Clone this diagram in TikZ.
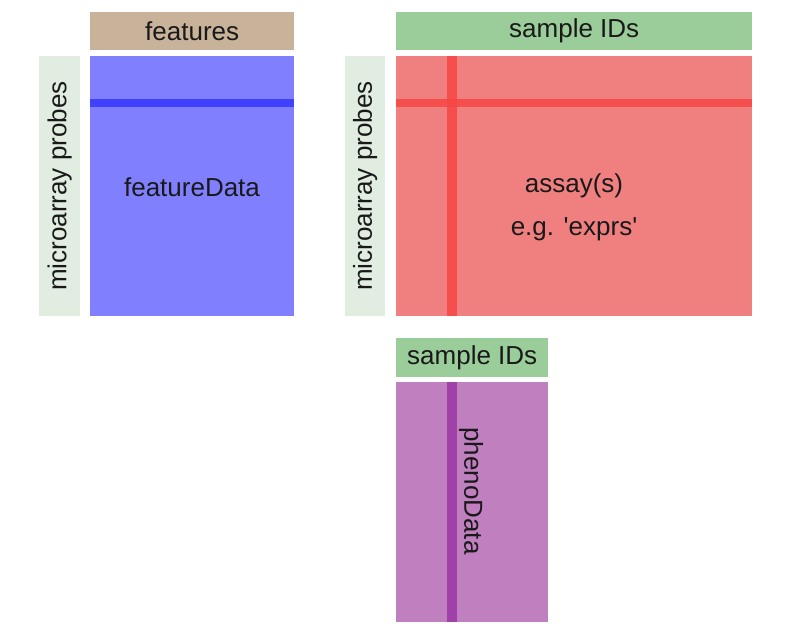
\documentclass[tikz,border=0pt]{standalone}
\usepackage{fontspec}
\setmainfont{Liberation Sans}
\begin{document}
\begin{tikzpicture}[x=1pt,y=-1pt,
  box/.style={draw=none,inner sep=0pt,anchor=north west},
  hdr/.style={box,fill=#1},
  lbl/.style={font=\fontsize{26}{30}\selectfont,text=black!90},
]
\definecolor{tanc}{HTML}{C9B29A}
\definecolor{bluec}{HTML}{8080FF}
\definecolor{bluebar}{HTML}{4040FF}
\definecolor{redc}{HTML}{F08080}
\definecolor{redbar}{HTML}{F84545}
\definecolor{greenc}{HTML}{9ACD9A}
\definecolor{probec}{HTML}{E0EDE0}
\definecolor{purpc}{HTML}{C080C0}
\definecolor{purpbar}{HTML}{A040A8}
\useasboundingbox[fill=white] (0,0) rectangle (811,637);
% headers
\node[hdr=tanc,minimum width=204pt,minimum height=38pt] (feat) at (90,12) {};
\node[lbl] at (feat.center) {features};
\node[hdr=greenc,minimum width=356pt,minimum height=38pt] (sid) at (396,12) {};
\node[lbl] at (sid.center) {sample IDs};
\node[hdr=greenc,minimum width=152pt,minimum height=39pt] (sid2) at (396,338) {};
\node[lbl] at (sid2.center) {sample IDs};
% probe labels
\node[hdr=probec,minimum width=41pt,minimum height=260pt] (pr1) at (39,56) {};
\node[lbl,rotate=90] at (pr1.center) {microarray probes};
\node[hdr=probec,minimum width=40pt,minimum height=260pt] (pr2) at (345,56) {};
\node[lbl,rotate=90] at (pr2.center) {microarray probes};
% featureData
\node[hdr=bluec,minimum width=204pt,minimum height=260pt] (fd) at (90,56) {};
\fill[bluebar] (90,99) rectangle (294,107);
\node[lbl] at (192,187) (fdt) {featureData};
% assay
\node[hdr=redc,minimum width=356pt,minimum height=260pt] (as) at (396,56) {};
\fill[redbar,opacity=0.85] (396,99) rectangle (752,107);
\fill[redbar,opacity=0.85] (447,56) rectangle (457,316);
\node[lbl] at (574,186) (ast) {assay(s)};
\node[lbl] at (574,229) (ext) {e.g. \textquotesingle exprs\textquotesingle};
% phenoData
\node[hdr=purpc,minimum width=152pt,minimum height=240pt] (pd) at (396,382) {};
\fill[purpbar] (447,382) rectangle (457,622);
\node[lbl,rotate=-90] at (471,491) (pdt) {phenoData};
\end{tikzpicture}
\end{document}
